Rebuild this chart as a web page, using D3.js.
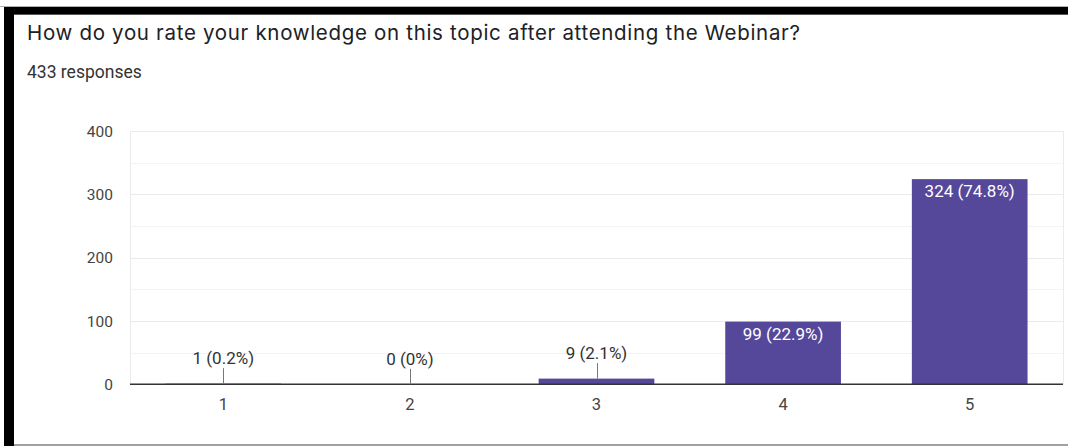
<!DOCTYPE html>
<html>
<head>
<meta charset="utf-8">
<script src="https://cdn.jsdelivr.net/npm/d3@7"></script>
<style>
  body { margin: 0; background: #fff; }
  svg { display: block; }
</style>
</head>
<body>
<div id="chart"></div>
<script>
var categories = ['1', '2', '3', '4', '5'];
var counts = [1, 0, 9, 99, 324];
var percents = ['0.2%', '0%', '2.1%', '22.9%', '74.8%'];
var yTicks = [0, 100, 200, 300, 400];
var yMinorTicks = [50, 150, 250, 350];
var title = 'How do you rate your knowledge on this topic after attending the Webinar?';
var subtitle = '433 responses';

var width = 1068;
var height = 446;
var plotLeft = 130;
var plotRight = 1063;
var plotTop = 131;
var plotBottom = 384.3;
var barColor = '#55479a';
var font = 'Roboto, Arial, sans-serif';

var data = categories.map(function (c, i) {
    return {key: c, value: counts[i], label: counts[i] + ' (' + percents[i] + ')'};
});

var svg = d3.select('#chart').append('svg')
    .attr('width', width)
    .attr('height', height);

svg.append('rect').attr('x', 0).attr('y', 0).attr('width', width).attr('height', height).style('fill', '#fff');

// screenshot frame
svg.append('rect').attr('x', 0).attr('y', 6).attr('width', width).attr('height', 1).style('fill', '#b0b0b0');
svg.append('rect').attr('x', 4).attr('y', 7).attr('width', width - 4).attr('height', 7).style('fill', '#000');
svg.append('rect').attr('x', 14).attr('y', 14).attr('width', width - 14).attr('height', 1).style('fill', '#555');
svg.append('rect').attr('x', 4).attr('y', 7).attr('width', 10).attr('height', height - 7).style('fill', '#000');
svg.append('rect').attr('x', 14).attr('y', 444).attr('width', width - 14).attr('height', 2).style('fill', '#a0a0a0');

svg.append('text')
    .attr('x', 27).attr('y', 40)
    .attr('textLength', 773)
    .attr('lengthAdjust', 'spacing')
    .style('font-family', 'Inter, Roboto, sans-serif').style('font-size', '20.5px')
    .style('fill', '#202124')
    .text(title);

svg.append('text')
    .attr('x', 27).attr('y', 78)
    .style('font-family', font).style('font-size', '17.5px')
    .style('fill', '#333')
    .text(subtitle);

var x = d3.scaleBand()
    .domain(categories)
    .range([plotLeft, plotRight])
    .paddingInner(0.38)
    .paddingOuter(0.19);

var y = d3.scaleLinear()
    .domain([0, 400])
    .range([plotBottom, plotTop]);

// minor gridlines
svg.selectAll('line.minor').data(yMinorTicks).enter().append('line')
    .attr('class', 'minor')
    .attr('x1', plotLeft).attr('x2', plotRight)
    .attr('y1', function (d) { return Math.round(y(d)) + 0.5; })
    .attr('y2', function (d) { return Math.round(y(d)) + 0.5; })
    .style('stroke', '#f4f4f4').style('stroke-width', '1px');

// major gridlines
svg.selectAll('line.major').data(yTicks.slice(1)).enter().append('line')
    .attr('class', 'major')
    .attr('x1', plotLeft).attr('x2', plotRight)
    .attr('y1', function (d) { return Math.round(y(d)) + 0.5; })
    .attr('y2', function (d) { return Math.round(y(d)) + 0.5; })
    .style('stroke', '#ebebeb').style('stroke-width', '1px');

// plot frame sides
svg.append('line')
    .attr('x1', plotLeft + 0.5).attr('x2', plotLeft + 0.5)
    .attr('y1', y(400)).attr('y2', plotBottom)
    .style('stroke', '#ebebeb');
svg.append('line')
    .attr('x1', plotRight + 0.5).attr('x2', plotRight + 0.5)
    .attr('y1', y(400)).attr('y2', plotBottom)
    .style('stroke', '#ebebeb');

// y labels
svg.selectAll('text.ylab').data(yTicks).enter().append('text')
    .attr('class', 'ylab')
    .attr('x', 113)
    .attr('y', function (d) { return y(d); })
    .attr('dy', '0.36em')
    .attr('text-anchor', 'end')
    .style('font-family', font).style('font-size', '15.5px')
    .style('fill', '#444')
    .text(function (d) { return d; });

// bars
svg.selectAll('rect.bar').data(data).enter().append('rect')
    .attr('class', 'bar')
    .attr('x', function (d) { return x(d.key); })
    .attr('y', function (d) { return y(d.value); })
    .attr('width', x.bandwidth())
    .attr('height', function (d) { return plotBottom - y(d.value); })
    .style('fill', barColor);

// baseline
svg.append('line')
    .attr('x1', plotLeft).attr('x2', plotRight)
    .attr('y1', plotBottom).attr('y2', plotBottom)
    .style('stroke', '#333').style('stroke-width', '1.6px');

// x labels
svg.selectAll('text.xlab').data(categories).enter().append('text')
    .attr('class', 'xlab')
    .attr('x', function (d) { return x(d) + x.bandwidth() / 2; })
    .attr('y', 409.5)
    .attr('text-anchor', 'middle')
    .style('font-family', font).style('font-size', '16.5px')
    .style('fill', '#444')
    .text(function (d) { return d; });

// value labels: inside tall bars, above with a leader for short ones
var inside = function (d) { return plotBottom - y(d.value) > 30; };

svg.selectAll('line.leader').data(data.filter(function (d) { return !inside(d); })).enter().append('line')
    .attr('class', 'leader')
    .attr('x1', function (d) { return Math.round(x(d.key) + x.bandwidth() / 2) + 0.5; })
    .attr('x2', function (d) { return Math.round(x(d.key) + x.bandwidth() / 2) + 0.5; })
    .attr('y1', function (d) { return y(d.value) - 15.5; })
    .attr('y2', function (d) { return y(d.value); })
    .style('stroke', '#777').style('stroke-width', '1px');

svg.selectAll('text.vlab').data(data).enter().append('text')
    .attr('class', 'vlab')
    .attr('x', function (d) { return x(d.key) + x.bandwidth() / 2; })
    .attr('y', function (d) { return inside(d) ? y(d.value) + 18 : y(d.value) - 19.5; })
    .attr('text-anchor', 'middle')
    .style('font-family', font).style('font-size', '17px')
    .style('fill', function (d) { return inside(d) ? '#fff' : '#333'; })
    .text(function (d) { return d.label; });
</script>
</body>
</html>
